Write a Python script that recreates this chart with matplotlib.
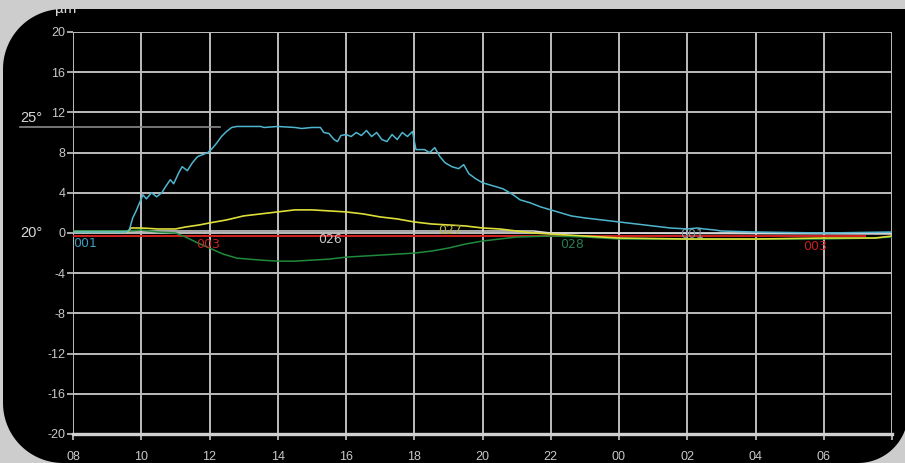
import matplotlib
matplotlib.use("Agg")
import matplotlib.pyplot as plt
from matplotlib.path import Path
from matplotlib.patches import PathPatch, Rectangle
import numpy as np

plt.rcParams['font.family'] = ['Liberation Sans', 'DejaVu Sans']

# ---------------- data (hours since 08:00, µm) ----------------
x_ticklabels = ["08", "10", "12", "14", "16", "18", "20", "22", "00", "02", "04", "06", ""]
y_ticks = [20, 16, 12, 8, 4, 0, -4, -8, -12, -16, -20]

cyan_t = [0.0, 1.55, 1.65, 1.75, 1.85, 1.95, 2.05, 2.15, 2.3, 2.45, 2.6, 2.75, 2.85, 2.95,
          3.1, 3.2, 3.35, 3.5, 3.65, 3.8, 3.95, 4.05, 4.2, 4.35, 4.5, 4.65, 4.8, 5.5, 5.6,
          6.0, 6.5, 6.7, 7.0, 7.25, 7.35, 7.5, 7.65, 7.75, 7.85, 8.0, 8.15, 8.3, 8.45, 8.6,
          8.75, 8.9, 9.05, 9.2, 9.35, 9.5, 9.65, 9.8, 9.95, 10.05, 10.3, 10.45, 10.6, 10.75,
          10.9, 11.1, 11.3, 11.45, 11.6, 11.8, 12.0, 12.3, 12.6, 12.9, 13.1, 13.4, 13.7,
          14.0, 14.3, 14.6, 15.0, 15.5, 16.0, 16.5, 17.0, 17.5, 18.0, 18.3, 18.5, 18.8,
          19.0, 20.0, 22.0, 24.0]
cyan_v = [0.1, 0.1, 0.3, 1.5, 2.2, 3.0, 3.8, 3.4, 4.0, 3.6, 4.0, 4.8, 5.3, 4.9,
          6.0, 6.6, 6.2, 7.0, 7.6, 7.8, 8.0, 8.3, 8.9, 9.6, 10.1, 10.5, 10.6, 10.6, 10.5,
          10.6, 10.5, 10.4, 10.5, 10.5, 10.0, 9.9, 9.3, 9.1, 9.7, 9.8, 9.6, 10.0, 9.7, 10.2,
          9.6, 10.0, 9.3, 9.1, 9.8, 9.3, 10.0, 9.6, 10.1, 8.3, 8.3, 8.0, 8.5, 7.6,
          7.0, 6.6, 6.4, 6.8, 5.9, 5.4, 5.0, 4.7, 4.4, 3.8, 3.3, 3.0, 2.6,
          2.3, 2.0, 1.7, 1.5, 1.3, 1.1, 0.9, 0.7, 0.5, 0.4, 0.5, 0.4, 0.3,
          0.2, 0.1, 0.0, 0.1]

yellow_t = [0, 1.6, 1.7, 2.0, 2.5, 3.0, 3.3, 3.7, 4.0, 4.5, 5.0, 5.5, 6.0, 6.5, 7.0, 7.5,
            8.0, 8.5, 9.0, 9.5, 10.0, 10.5, 11.0, 11.5, 12.0, 12.5, 13.0, 13.5, 14.0, 15.0,
            16.0, 18.0, 20.0, 22.0, 23.5, 24.0]
yellow_v = [0.1, 0.1, 0.5, 0.5, 0.4, 0.4, 0.6, 0.8, 1.0, 1.3, 1.7, 1.9, 2.1, 2.3, 2.3, 2.2,
            2.1, 1.9, 1.6, 1.4, 1.1, 0.9, 0.8, 0.7, 0.5, 0.4, 0.2, 0.0, -0.1, -0.3,
            -0.5, -0.6, -0.6, -0.5, -0.5, -0.3]

green_t = [0, 1.6, 2.0, 2.5, 3.0, 3.3, 3.6, 4.0, 4.4, 4.8, 5.5, 6.0, 6.5, 7.0, 7.5, 8.0,
           8.5, 9.0, 9.5, 10.0, 10.5, 11.0, 11.5, 12.0, 12.5, 13.0, 14.0, 15.0, 16.0, 18.0,
           20.0, 22.0, 23.5, 24.0]
green_v = [0.2, 0.2, 0.3, 0.1, 0.0, -0.4, -0.9, -1.5, -2.1, -2.5, -2.7, -2.8, -2.8, -2.7,
           -2.6, -2.4, -2.3, -2.2, -2.1, -2.0, -1.8, -1.5, -1.1, -0.8, -0.6, -0.4, -0.3,
           -0.4, -0.6, -0.6, -0.6, -0.6, -0.5, -0.4]

white_t = [0, 2.5, 13.5, 14.0, 24.0]
white_v = [0.2, 0.2, 0.2, 0.0, -0.1]

red_t = [0, 23.2]
red_v = [-0.3, -0.3]

labels = ["001", "003", "026", "027", "028", "001", "003"]
label_t = [0.35, 3.96, 7.54, 11.06, 14.63, 18.15, 21.76]
label_v = [-1.0, -1.1, -0.6, 0.2, -1.1, -0.1, -1.3]
label_colors = ["#3a9ec0", "#c42020", "#c8c8c8", "#b8b040", "#2a7a50", "#7a9aaa", "#c42020"]

ref_25_value = 10.5

# ---------------- figure ----------------
W, H = 905, 463
fig = plt.figure(figsize=(W / 100, H / 100), dpi=100, facecolor="#cdcdcd")

def fx(px):
    return px / W

def fy(py):
    return 1 - py / H

# black rounded panel (pixel coords, y from top)
def arc(cx, cy, r, a0, a1, n=30):
    a = np.linspace(np.radians(a0), np.radians(a1), n)
    return [(cx + r * np.cos(t), cy + r * np.sin(t)) for t in a]

pts = []
pts += arc(63, 69, 60, 180, 270)          # top-left (y down)
pts += [(W + 20, 9)]                        # top-right square
pts += arc(858, 413, 50, 0, 90)            # bottom-right
pts += arc(63, 403, 60, 90, 180)           # bottom-left
pts = [(fx(p[0]), fy(p[1])) for p in pts]
pts.append(pts[0])
codes = [Path.MOVETO] + [Path.LINETO] * (len(pts) - 2) + [Path.CLOSEPOLY]
panel = PathPatch(Path(pts, codes), transform=fig.transFigure, facecolor="black",
                  edgecolor="none", zorder=-1)
fig.patches.append(panel)

ax = fig.add_axes([fx(73), fy(434), fx(892) - fx(73), fy(32) - fy(434)])
ax.set_facecolor("none")
ax.set_xlim(0, 24)
ax.set_ylim(-20, 20)

ax.set_xticks(np.arange(0, 25, 2))
ax.set_xticklabels(x_ticklabels)
ax.set_yticks(y_ticks)
ax.set_yticklabels([str(v) for v in y_ticks])

grid_c = "#bdbdbd"
ax.grid(True, color=grid_c, lw=1.4)
for s in ["top", "right", "left"]:
    ax.spines[s].set_visible(False)
ax.spines["bottom"].set_color("#d0d0d0")
ax.spines["bottom"].set_linewidth(2.4)
ax.tick_params(axis="y", colors="#c8c8c8", length=4, width=1.2, pad=1.5, labelsize=9)
ax.tick_params(axis="x", colors="#c8c8c8", length=4, width=1.2, pad=8, labelsize=9)

ax.plot(red_t, red_v, color="#d42020", lw=1.4, zorder=3)
ax.plot(white_t, white_v, color="#d8d8d8", lw=1.1, zorder=3)
ax.plot(green_t, green_v, color="#1f8a3c", lw=1.1, zorder=3)
ax.plot(yellow_t, yellow_v, color="#dede3a", lw=1.2, zorder=4)
ax.plot(cyan_t, cyan_v, color="#4fb6cf", lw=1.1, zorder=5)

for s, t, v, c in zip(labels, label_t, label_v, label_colors):
    ax.text(t, v, s, color=c, fontsize=9, ha="center", va="center", zorder=6,
            family="DejaVu Sans")

# temperature reference annotations
ax.plot([-1.55, 4.3], [ref_25_value, ref_25_value], color="#8a8a8a", lw=1.2,
        clip_on=False, zorder=2)
ax.text(-1.55, 11.4, "25°", color="#d8d8d8", fontsize=10.5, ha="left", va="center",
        clip_on=False)
ax.text(-1.55, 0.0, "20°", color="#d8d8d8", fontsize=10.5, ha="left", va="center",
        clip_on=False)

fig.text(fx(55), fy(9), "µm", color="#d8d8d8", fontsize=11, ha="left", va="center",
         zorder=5)
fig.patches.append(Rectangle((0, fy(9)), 1, 1 - fy(9), transform=fig.transFigure,
                             facecolor="#cdcdcd", edgecolor="none", zorder=10))

fig.savefig("out.png", dpi=100, facecolor=fig.get_facecolor())
